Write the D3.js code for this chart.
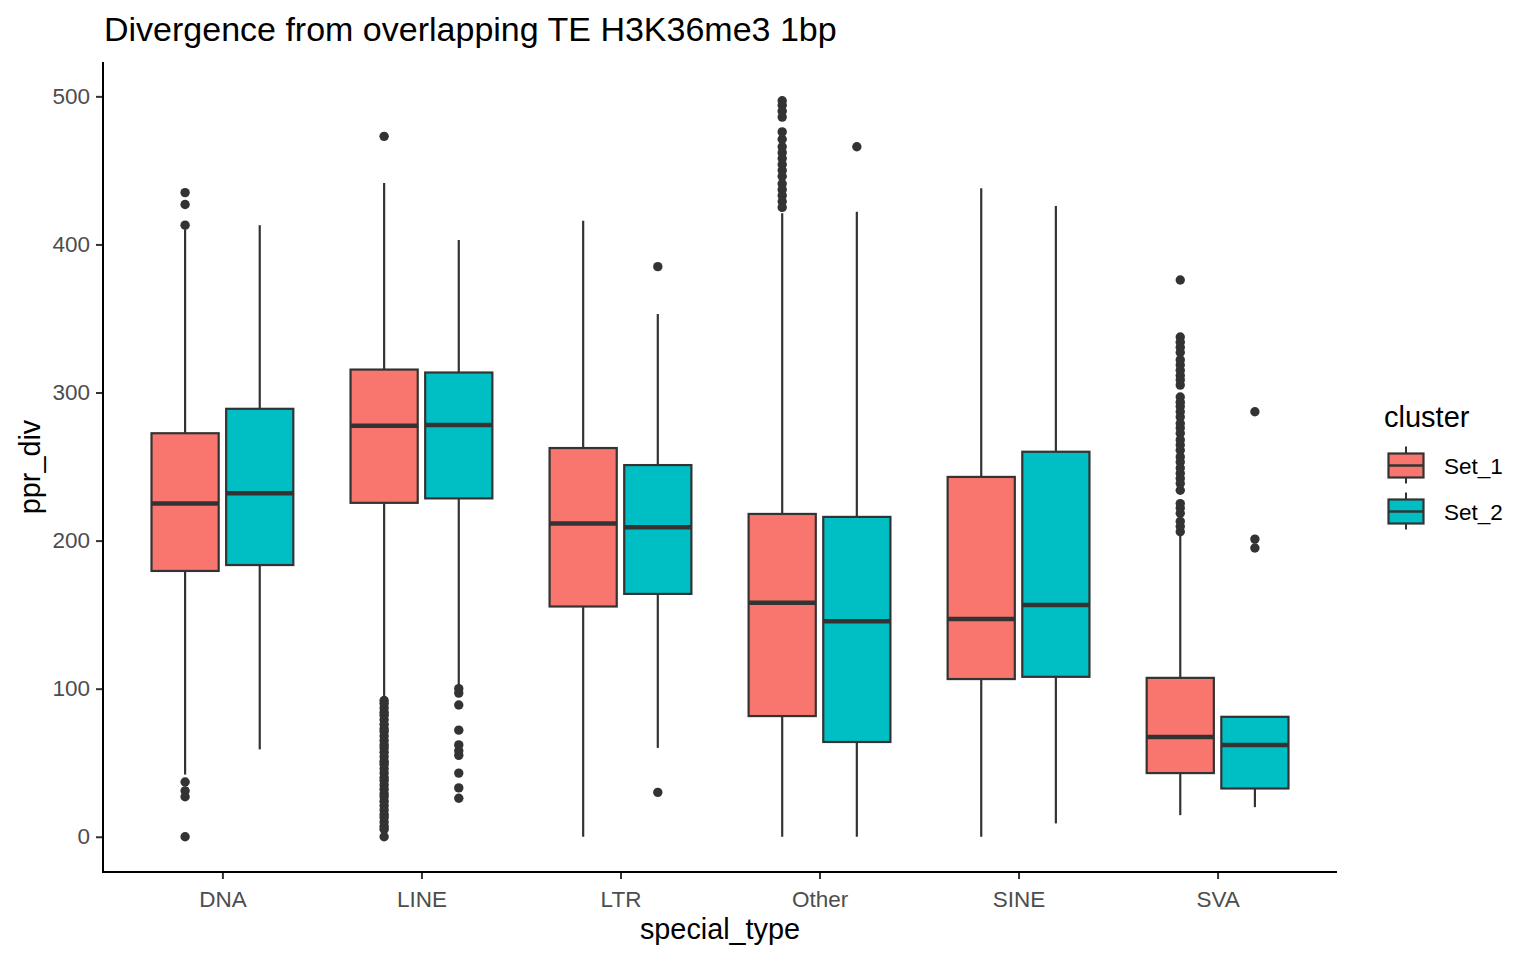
<!DOCTYPE html>
<html>
<head>
<meta charset="utf-8">
<script src="https://cdn.jsdelivr.net/npm/d3@7"></script>
<style>
  body { margin: 0; background: #ffffff; }
  svg { font-family: "Liberation Sans", Arial, sans-serif; }
</style>
</head>
<body>
<div id="chart"></div>
<script>
// categories and groups
var categories = ["DNA", "LINE", "LTR", "Other", "SINE", "SVA"];
var clusters = ["Set_1", "Set_2"];
var yTicks = [0, 100, 200, 300, 400, 500];

// box stats, one value per category
var set1Lower  = [42, 93, 0, 0, 0, 14.6];
var set1Q1     = [179.5, 225.5, 155.5, 81.5, 106.5, 43];
var set1Median = [225, 277.5, 211.5, 158, 147, 67.3];
var set1Q3     = [272.5, 315.5, 262.5, 218, 243, 107.3];
var set1Upper  = [410, 441.5, 416, 421, 438, 205];
var set1Outliers = [
    [435, 427, 413, 37, 31, 27, 0],
    [473, 92, 90, 87, 84, 82, 79, 76, 73, 71, 68, 65, 62, 60, 57, 54, 51, 49, 46, 43, 40, 38, 35, 32, 29, 27, 24, 21, 18, 15, 13, 10, 7, 5, 0],
    [],
    [497, 494, 490, 486, 476, 471, 466, 462, 458, 454, 450, 446, 441, 437, 433, 429, 425],
    [],
    [376, 337.5, 334, 330.5, 327, 322, 318.5, 315, 311.5, 308.5, 305, 297, 293.5, 290.5, 287, 283.5, 279, 276, 272.5, 268, 264.5, 261, 256.5, 253, 249, 245.5, 242, 238.5, 234, 225, 222, 218.5, 213, 209.5, 206]
];

var set2Lower  = [59, 102, 60, 0, 9, 20];
var set2Q1     = [183.5, 228.5, 164, 64, 108, 32.6];
var set2Median = [232, 278, 209, 145.5, 156.5, 62];
var set2Q3     = [289, 313.5, 251, 216, 260, 81];
var set2Upper  = [413, 403, 353, 422, 426, 81];
var set2Outliers = [
    [],
    [100, 97, 89, 72, 62, 58, 55, 43, 33, 26],
    [385, 30],
    [466],
    [],
    [287, 201, 195]
];

var fills = ["#F8766D", "#00BFC4"];
var ink = "#333333";

var W = 1536, H = 960;
var panel = { left: 103, right: 1337, top: 62, bottom: 872 };

var svg = d3.select("#chart").append("svg")
    .attr("width", W)
    .attr("height", H);

// scales
var x = d3.scalePoint()
    .domain(categories)
    .range([panel.left, panel.right])
    .padding(0.6);
var step = x.step();
var y = d3.scaleLinear()
    .domain([-23.8, 523.2])
    .range([panel.bottom, panel.top]);

var dodge = step * 0.75;       // total dodge width
var boxW = dodge / 2 * 0.9;    // single box width

// build rows from the arrays
var rows = [];
categories.forEach(function(cat, i) {
    rows.push({ cat: cat, g: 0, lo: set1Lower[i], q1: set1Q1[i], md: set1Median[i], q3: set1Q3[i], hi: set1Upper[i], out: set1Outliers[i] });
    rows.push({ cat: cat, g: 1, lo: set2Lower[i], q1: set2Q1[i], md: set2Median[i], q3: set2Q3[i], hi: set2Upper[i], out: set2Outliers[i] });
});
var cx = function(d) { return x(d.cat) + (d.g === 0 ? -1 : 1) * dodge / 4; };

var marks = svg.append("g");
var grp = marks.selectAll("g.box").data(rows).enter()
    .append("g").attr("class", "box");

// whiskers
grp.append("line")
    .attr("x1", cx).attr("x2", cx)
    .attr("y1", function(d) { return y(d.hi); })
    .attr("y2", function(d) { return y(d.q3); })
    .attr("stroke", ink).attr("stroke-width", 2.2);
grp.append("line")
    .attr("x1", cx).attr("x2", cx)
    .attr("y1", function(d) { return y(d.q1); })
    .attr("y2", function(d) { return y(d.lo); })
    .attr("stroke", ink).attr("stroke-width", 2.2);

// boxes
grp.append("rect")
    .attr("x", function(d) { return cx(d) - boxW / 2; })
    .attr("y", function(d) { return y(d.q3); })
    .attr("width", boxW)
    .attr("height", function(d) { return y(d.q1) - y(d.q3); })
    .attr("fill", function(d) { return fills[d.g]; })
    .attr("stroke", ink).attr("stroke-width", 2.2);

// medians
grp.append("line")
    .attr("x1", function(d) { return cx(d) - boxW / 2; })
    .attr("x2", function(d) { return cx(d) + boxW / 2; })
    .attr("y1", function(d) { return y(d.md); })
    .attr("y2", function(d) { return y(d.md); })
    .attr("stroke", ink).attr("stroke-width", 4.5);

// outliers
grp.selectAll("circle")
    .data(function(d) { return d.out.map(function(v) { return { v: v, px: cx(d) }; }); })
    .enter().append("circle")
    .attr("cx", function(p) { return p.px; })
    .attr("cy", function(p) { return y(p.v); })
    .attr("r", 4.7)
    .attr("fill", ink);

// axes
var yAxis = svg.append("g")
    .attr("transform", "translate(" + panel.left + ",0)")
    .call(d3.axisLeft(y).tickValues(yTicks).tickSize(7).tickPadding(6));
var xAxis = svg.append("g")
    .attr("transform", "translate(0," + panel.bottom + ")")
    .call(d3.axisBottom(x).tickSize(7).tickPadding(7));

[yAxis, xAxis].forEach(function(a) {
    a.select(".domain").remove();
    a.selectAll(".tick line").attr("stroke", ink).attr("stroke-width", 2);
    a.selectAll(".tick text")
        .attr("fill", "#4D4D4D")
        .style("font-size", "22.5px")
        .style("font-family", "'Liberation Sans', Arial, sans-serif");
});
xAxis.selectAll(".tick text").attr("dy", "0.93em");

// axis lines
svg.append("line")
    .attr("x1", panel.left).attr("x2", panel.left)
    .attr("y1", panel.top).attr("y2", panel.bottom + 1)
    .attr("stroke", "#000").attr("stroke-width", 2);
svg.append("line")
    .attr("x1", panel.left - 1).attr("x2", panel.right)
    .attr("y1", panel.bottom).attr("y2", panel.bottom)
    .attr("stroke", "#000").attr("stroke-width", 2);

// titles
svg.append("text")
    .attr("x", 104).attr("y", 41)
    .style("font-size", "34px")
    .attr("fill", "#000")
    .text("Divergence from overlapping TE H3K36me3 1bp");
svg.append("text")
    .attr("x", (panel.left + panel.right) / 2).attr("y", 939)
    .attr("text-anchor", "middle")
    .style("font-size", "28.8px")
    .text("special_type");
svg.append("text")
    .attr("transform", "translate(40," + ((panel.top + panel.bottom) / 2) + ") rotate(-90)")
    .attr("text-anchor", "middle")
    .style("font-size", "28.8px")
    .text("ppr_div");

// legend
var legend = svg.append("g").attr("transform", "translate(1383,0)");
legend.append("text")
    .attr("x", 1).attr("y", 427)
    .style("font-size", "29px")
    .text("cluster");
var key = legend.selectAll("g.key").data(clusters).enter()
    .append("g").attr("class", "key")
    .attr("transform", function(d, i) { return "translate(0," + (442 + i * 46) + ")"; });
key.append("line")
    .attr("x1", 23).attr("x2", 23).attr("y1", 4.5).attr("y2", 41.5)
    .attr("stroke", ink).attr("stroke-width", 2);
key.append("rect")
    .attr("x", 5.5).attr("y", 11.5).attr("width", 35).attr("height", 24)
    .attr("fill", function(d, i) { return fills[i]; })
    .attr("stroke", ink).attr("stroke-width", 2.2);
key.append("line")
    .attr("x1", 5.5).attr("x2", 40.5).attr("y1", 23.5).attr("y2", 23.5)
    .attr("stroke", ink).attr("stroke-width", 2.5);
key.append("text")
    .attr("x", 61).attr("y", 32)
    .style("font-size", "22.5px")
    .text(function(d) { return d; });
</script>
</body>
</html>
